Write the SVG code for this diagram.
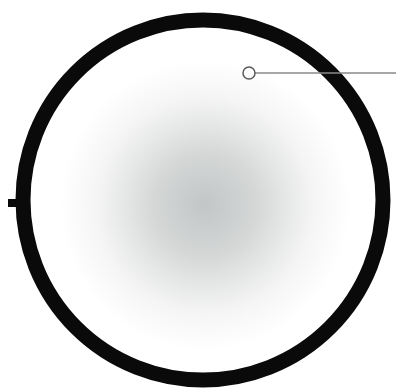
<svg xmlns="http://www.w3.org/2000/svg" width="396" height="391" viewBox="0 0 396 391">
<defs>
<radialGradient id="g" cx="205" cy="205" r="145" gradientUnits="userSpaceOnUse">
<stop offset="0" stop-color="#c2c6c6"/>
<stop offset="0.35" stop-color="#d5d7d7"/>
<stop offset="0.75" stop-color="#f5f5f5"/>
<stop offset="1" stop-color="#ffffff"/>
</radialGradient>
</defs>
<style>.ring{fill:url(#g);stroke:#0a0a0a;stroke-width:15}.lead{stroke:#8a8a8a;stroke-width:1.5;fill:none}.dot{fill:#fff;stroke:#5a5a5a;stroke-width:1.5}</style>
<rect width="396" height="391" fill="#fff"/>
<g id="disc">
<rect x="8" y="199" width="9" height="8" fill="#0a0a0a"/>
<circle class="ring" cx="203" cy="200" r="180"/>
</g>
<g id="connectors">
<line class="lead" x1="255" y1="73" x2="396" y2="73"/>
</g>
<g id="marker">
<circle class="dot" cx="249" cy="73" r="6"/>
</g>
</svg>
